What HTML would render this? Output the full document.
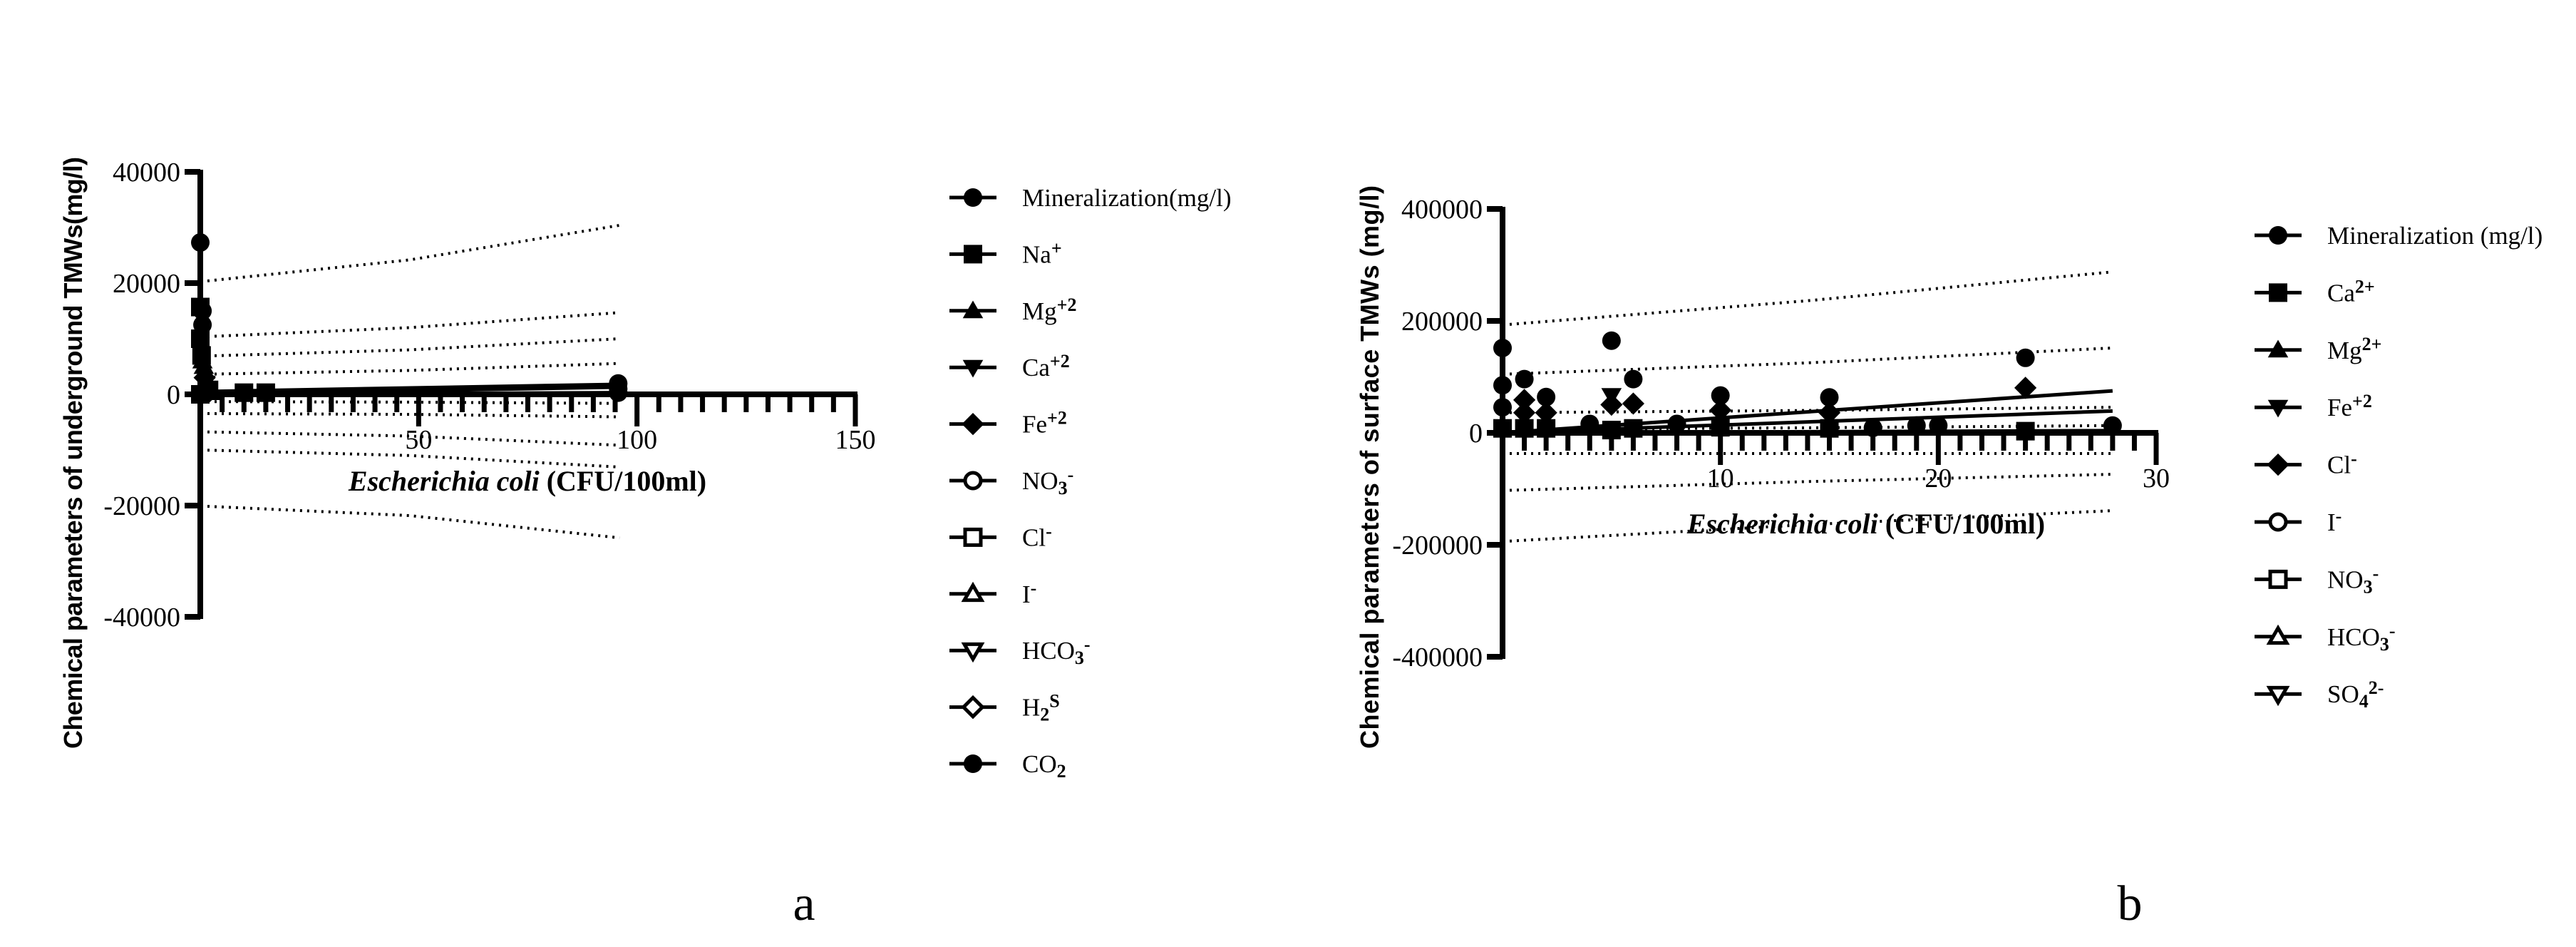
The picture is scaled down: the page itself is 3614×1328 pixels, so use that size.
<!DOCTYPE html>
<html><head><meta charset="utf-8"><style>
html,body{margin:0;padding:0;background:#fff;}
svg{display:block;}
text{font-family:"Liberation Serif",serif;fill:#000;}
.tick{font-size:38px;}
.yt{font-family:"Liberation Sans",sans-serif;font-weight:bold;font-size:36px;}
.xt{font-weight:bold;font-size:40px;}
.leg{font-size:35px;}
</style></head><body>
<svg id="chart" width="3614" height="1328" viewBox="0 0 3614 1328" xmlns="http://www.w3.org/2000/svg">
<g id="chartA"></g>
<g id="chartB"></g>
<text x="1128" y="1290" font-size="70" text-anchor="middle">a</text>
<text x="2988" y="1290" font-size="70" text-anchor="middle">b</text>
</svg>
<script>
// ---------- Chart A data ----------
const aXTicks = [0, 50, 100, 150];
const aYTicks = [40000, 20000, 0, -20000, -40000];
const aYTickLabels = ["40000", "20000", "0", "-20000", "-40000"];
const aXTickLabels = ["", "50", "100", "150"];
const aPointX = [0, 0, 0.5, 0.5, 0, 0.3, 0.5, 0.8, 1, 1.2, 1.5, 2, 3, 10, 15, 95.7, 95.7, 95.7, 0, 1];
const aPointY = [27300, 15700, 15000, 12500, 10000, 7000, 6000, 5000, 3000, 2000, 1000, 800, 300, 300, 300, 1960, 1000, 300, 0, 0];
const aPointM = ["circle","square","circle","circle","square","square","triangle","triangle","diamond","dtriangle","circle","square","triangle","square","square","circle","circle","circle","square","circle"];
const aBandX = [0, 48, 96];
const aBands = [
  [20260, 24180, 30390],
  [10330, 12000, 14700],
  [6860, 8000, 10000],
  [3600, 4300, 5560],
  [-1300, -1400, -1630],
  [-3460, -3600, -4050],
  [-6730, -7500, -9150],
  [-10000, -11000, -13070],
  [-20070, -21800, -25800]
];
const aFitX = [0, 96];
const aFits = [[0, 1300], [0, 300], [500, 1800]];
const aLegendNames = ["Mineralization(mg/l)","Na|+|","Mg|+2|","Ca|+2|","Fe|+2|","NO|_3|-","Cl|-|","I|-|","HCO|_3|-","H|_2|S","CO|_2|"];
const aLegendMarkers = ["circle","square","triangle","dtriangle","diamond","ocircle","osquare","otriangle","odtriangle","odiamond","circle"];

// ---------- Chart B data ----------
const bXTicks = [0, 10, 20, 30];
const bXTickLabels = ["", "10", "20", "30"];
const bYTicks = [400000, 200000, 0, -200000, -400000];
const bYTickLabels = ["400000", "200000", "0", "-200000", "-400000"];
const bPointX = [0,0,0,0, 1,1,1,1, 2,2,2, 4, 5,5,5,5, 6,6,6, 8, 10,10,10, 15,15,15, 17, 19, 20, 24,24,24, 28];
const bPointY = [151600,85000,45750,8000, 96000,58800,36000,8000, 64000,36000,8000, 16000, 164700,66700,50300,5000, 96000,52300,8000, 16000, 66700,40500,10000, 63400,36000,8000, 9000, 13000, 13000, 134000,80400,3000, 13000];
const bPointM = ["circle","circle","circle","square", "circle","diamond","diamond","square", "circle","diamond","square", "circle", "circle","dtriangle","diamond","square", "circle","diamond","square", "circle", "circle","diamond","square", "circle","diamond","square", "circle","circle","circle", "circle","diamond","square","circle"];
const bBandX = [0, 14, 28];
const bBands = [
  [192800, 236000, 287600],
  [104600, 125000, 151600],
  [36000, 40000, 45750],
  [6500, 9000, 13000],
  [-37000, -37000, -37000],
  [-103000, -87000, -74000],
  [-194000, -164000, -139000]
];
const bFitX = [0, 28];
const bFits = [[0, 75000], [0, 39000], [0, 4000]];
const bLegendNames = ["Mineralization (mg/l)","Ca|^2+|","Mg|^2+|","Fe|+2|","Cl|-|","I|-|","NO|_3|-","HCO|_3|-","SO|_4|2-"];
const bLegendMarkers = ["circle","square","triangle","dtriangle","diamond","ocircle","osquare","otriangle","odtriangle"];

const NS = "http://www.w3.org/2000/svg";
function mk(tag, attrs, parent) {
  const e = document.createElementNS(NS, tag);
  for (const k in attrs) e.setAttribute(k, attrs[k]);
  parent.appendChild(e);
  return e;
}
function marker(g, type, cx, cy, r) {
  let e;
  const open = type.startsWith("o");
  const t = open ? type.slice(1) : type;
  const fill = open ? "#fff" : "#000";
  const sw = open ? 5 : 0;
  if (open) r = r - 2;
  if (t === "circle") e = mk("circle", {cx: cx, cy: cy, r: r}, g);
  else if (t === "square") e = mk("rect", {x: cx - r, y: cy - r, width: 2 * r, height: 2 * r}, g);
  else if (t === "triangle") e = mk("polygon", {points: `${cx},${cy - r * 1.1} ${cx - r * 1.1},${cy + r * 0.8} ${cx + r * 1.1},${cy + r * 0.8}`}, g);
  else if (t === "dtriangle") e = mk("polygon", {points: `${cx},${cy + r * 1.1} ${cx - r * 1.1},${cy - r * 0.8} ${cx + r * 1.1},${cy - r * 0.8}`}, g);
  else e = mk("polygon", {points: `${cx},${cy - r * 1.2} ${cx + r * 1.2},${cy} ${cx},${cy + r * 1.2} ${cx - r * 1.2},${cy}`}, g);
  e.setAttribute("fill", fill);
  e.setAttribute("stroke", "#000");
  e.setAttribute("stroke-width", sw);
  
  
  return e;
}
function legendText(g, x, y, spec, name) {
  const t = mk("text", {x: x, y: y, class: "leg"}, g);
  
  
  const parts = spec.split("|");
  parts.forEach((p, i) => {
    if (p === "") return;
    const s = mk("tspan", {}, t);
    if (p.startsWith("_")) { s.textContent = p.slice(1); s.setAttribute("baseline-shift", "-25%"); s.setAttribute("font-size", "26"); s.setAttribute("font-weight", "bold"); }
    else if (p.startsWith("^")) { s.textContent = p.slice(1); s.setAttribute("baseline-shift", "45%"); s.setAttribute("font-size", "26"); s.setAttribute("font-weight", "bold"); }
    else if (i > 0) { s.textContent = p; s.setAttribute("baseline-shift", "45%"); s.setAttribute("font-size", "26"); s.setAttribute("font-weight", "bold"); }
    else s.textContent = p;
  });
}

function drawChart(cfg) {
  const g = document.getElementById(cfg.id);
  const sx = v => cfg.x0 + (v - cfg.xmin) / (cfg.xmax - cfg.xmin) * (cfg.x1 - cfg.x0);
  const sy = v => cfg.y0 + (cfg.ymax - v) / (cfg.ymax - cfg.ymin) * (cfg.y1 - cfg.y0);
  cfg.bands.forEach((b, i) => {
    const pts = cfg.bandX.map((x, j) => sx(x) + "," + sy(b[j])).join(" ");
    const l = mk("polyline", {points: pts, fill: "none", stroke: "#000", "stroke-width": 4, "stroke-dasharray": "3 7"}, g);
    
    
  });
  cfg.fits.forEach((f, i) => {
    const l = mk("line", {x1: sx(cfg.fitX[0]), y1: sy(f[0]), x2: sx(cfg.fitX[1]), y2: sy(f[1]), stroke: "#000", "stroke-width": 5}, g);
    
    
  });
  const ya = mk("line", {x1: sx(0), y1: sy(cfg.ymax) - 3, x2: sx(0), y2: sy(cfg.ymin) + 3, stroke: "#000", "stroke-width": 8}, g);
  
  
  const xa = mk("line", {x1: sx(0), y1: sy(0), x2: sx(cfg.xmax) + 3, y2: sy(0), stroke: "#000", "stroke-width": 8}, g);
  
  
  cfg.yTicks.forEach((v, i) => {
    mk("line", {x1: sx(0) - 22, y1: sy(v), x2: sx(0), y2: sy(v), stroke: "#000", "stroke-width": 8}, g);
    const t = mk("text", {x: sx(0) - 28, y: sy(v) + 13, "text-anchor": "end", class: "tick"}, g);
    t.textContent = cfg.yTickLabels[i];
    
    
  });
  for (let v = cfg.xmin; v <= cfg.xmax + 1e-9; v += cfg.minor) {
    const major = cfg.xTicks.some(t => Math.abs(t - v) < 1e-6);
    mk("line", {x1: sx(v), y1: sy(0), x2: sx(v), y2: sy(0) + (major ? 45 : 25), stroke: "#000", "stroke-width": 7}, g);
  }
  cfg.xTicks.forEach((v, i) => {
    const t = mk("text", {x: sx(v), y: sy(0) + 76, "text-anchor": "middle", class: "tick"}, g);
    t.textContent = cfg.xTickLabels[i];
    
    
  });
  cfg.px.forEach((x, i) => marker(g, cfg.pm[i], sx(x), sy(cfg.py[i]), 13));
  const xt = mk("text", {x: cfg.xtX, y: cfg.xtY, "text-anchor": "middle", class: "xt"}, g);
  
  
  const i1 = mk("tspan", {"font-style": "italic"}, xt); i1.textContent = "Escherichia coli";
  const i2 = mk("tspan", {}, xt); i2.textContent = " (CFU/100ml)";
  const yt = mk("text", {x: 0, y: 0, "text-anchor": "middle", class: "yt", transform: `translate(${cfg.ytX},${cfg.ytY}) rotate(-90)`, textLength: cfg.ytLen, lengthAdjust: "spacing"}, g);
  yt.textContent = cfg.yTitle;
  
  
  cfg.legNames.forEach((n, i) => {
    const y = cfg.legY0 + i * cfg.legDy;
    const lg = mk("g", {}, g);
    
    
    mk("line", {x1: cfg.legX, y1: y, x2: cfg.legX + 66, y2: y, stroke: "#000", "stroke-width": 5}, lg);
    marker(lg, cfg.legM[i], cfg.legX + 33, y, 13);
    legendText(lg, cfg.legX + 102, y + 12, n, 'legend-label');
  });
}

drawChart({id: "chartA", x0: 281, x1: 1200, xmin: 0, xmax: 150, y0: 241, y1: 865, ymax: 40000, ymin: -40000,
  xTicks: aXTicks, xTickLabels: aXTickLabels, yTicks: aYTicks, yTickLabels: aYTickLabels, minor: 5,
  bands: aBands, bandX: aBandX, fits: aFits, fitX: aFitX, px: aPointX, py: aPointY, pm: aPointM,
  xtX: 740, xtY: 688, ytX: 115, ytY: 635, ytLen: 830, yTitle: "Chemical parameters of underground TMWs(mg/l)",
  legNames: aLegendNames, legM: aLegendMarkers, legX: 1332, legY0: 277, legDy: 79.4});
drawChart({id: "chartB", x0: 2108, x1: 3025, xmin: 0, xmax: 30, y0: 293, y1: 921, ymax: 400000, ymin: -400000,
  xTicks: bXTicks, xTickLabels: bXTickLabels, yTicks: bYTicks, yTickLabels: bYTickLabels, minor: 1,
  bands: bBands, bandX: bBandX, fits: bFits, fitX: bFitX, px: bPointX, py: bPointY, pm: bPointM,
  xtX: 2618, xtY: 748, ytX: 1934, ytY: 655, ytLen: 790, yTitle: "Chemical parameters of surface TMWs (mg/l)",
  legNames: bLegendNames, legM: bLegendMarkers, legX: 3163, legY0: 330, legDy: 80.4});
</script>
</body></html>
